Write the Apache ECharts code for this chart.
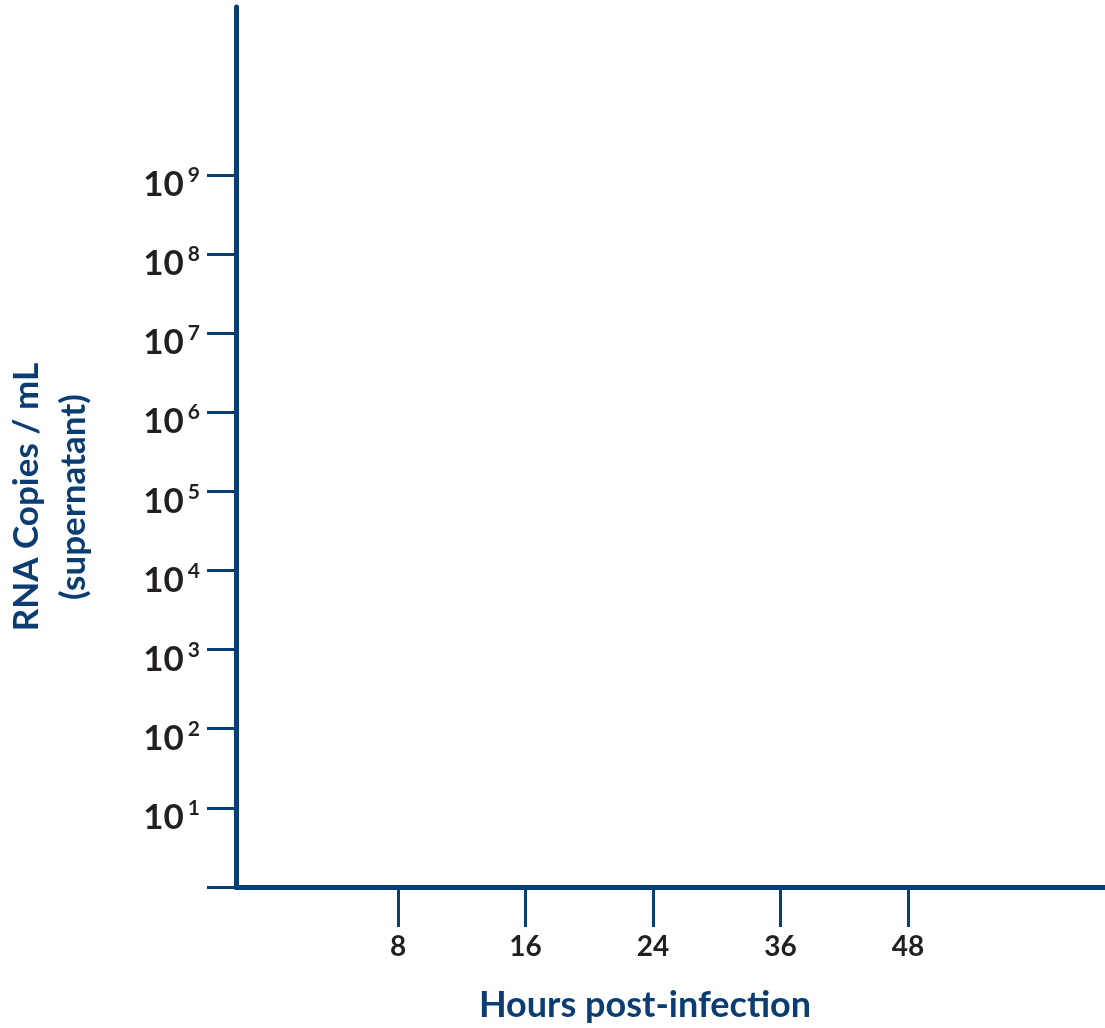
<!DOCTYPE html>
<html>
<head>
<meta charset="utf-8">
<script src="https://cdn.jsdelivr.net/npm/echarts@6/dist/echarts.min.js"></script>
<style>
  html, body { margin: 0; padding: 0; background: #ffffff; }
  #chart { width: 1105px; height: 1028px; }
</style>
</head>
<body>
<div id="chart"></div>
<script>
// ---- data ----
const hourLabels = ['8', '16', '24', '36', '48'];          // x tick labels (hours post-infection)
const decadeExponents = [1, 2, 3, 4, 5, 6, 7, 8, 9];        // y tick labels: 10^n RNA copies / mL
const yTickExponents = [0, 1, 2, 3, 4, 5, 6, 7, 8, 9];      // y ticks (includes baseline 10^0)
const seriesData = [];                                     // the chart is empty: no plotted values

const AXIS_BLUE = '#083e76';
const TITLE_BLUE = '#0b3d72';
const LABEL_BLACK = '#231f20';
const FONT = 'Lato';

const chart = echarts.init(document.getElementById('chart'), null, { renderer: 'canvas' });

chart.setOption({
  animation: false,
  backgroundColor: '#ffffff',
  grid: { left: 236, right: 0, top: 7, bottom: 141, containLabel: false },
  xAxis: {
    type: 'value',
    min: -1.271,
    max: 5.545,
    splitLine: { show: false },
    axisLine: { show: true, onZero: false, lineStyle: { color: AXIS_BLUE, width: 5 } },
    axisTick: {
      show: true, length: 40, inside: false,
      customValues: hourLabels.map((_, i) => i),
      lineStyle: { color: AXIS_BLUE, width: 3 }
    },
    axisLabel: {
      show: true,
      customValues: hourLabels.map((_, i) => i),
      formatter: v => hourLabels[Math.round(v)] ?? '',
      margin: 46,
      color: LABEL_BLACK,
      fontFamily: FONT,
      fontWeight: 'bold',
      fontSize: 28
    }
  },
  yAxis: {
    type: 'value',
    min: 0,
    max: 11.12,
    splitLine: { show: false },
    axisLine: { show: true, onZero: false, lineStyle: { color: AXIS_BLUE, width: 5 } },
    axisTick: {
      show: true, length: 29, inside: false,
      customValues: yTickExponents,
      lineStyle: { color: AXIS_BLUE, width: 3 }
    },
    axisLabel: {
      show: true,
      customValues: decadeExponents,
      formatter: v => '{b|10}{s|' + Math.round(v) + '}',
      margin: 36,
      padding: [20, 0, 0, 0],
      rich: {
        b: { fontFamily: FONT, fontWeight: 'bold', fontSize: 35, color: LABEL_BLACK, lineHeight: 40 },
        s: { fontFamily: FONT, fontWeight: 'bold', fontSize: 21, color: LABEL_BLACK, lineHeight: 40, padding: [0, 0, 19, 4] }
      }
    }
  },
  graphic: [
    {
      type: 'text',
      x: 50, y: 497,
      rotation: Math.PI / 2,
      style: {
        text: 'RNA Copies / mL\n(supernatant)',
        align: 'center',
        verticalAlign: 'middle',
        lineHeight: 47,
        fill: TITLE_BLUE,
        font: 'bold 35px ' + FONT
      }
    },
    {
      type: 'text',
      x: 645, y: 1005,
      style: {
        text: 'Hours post-infection',
        align: 'center',
        verticalAlign: 'middle',
        fill: TITLE_BLUE,
        font: 'bold 36px ' + FONT
      }
    }
  ],
  series: [
    { type: 'line', data: seriesData, showSymbol: false }
  ]
});
</script>
</body>
</html>
